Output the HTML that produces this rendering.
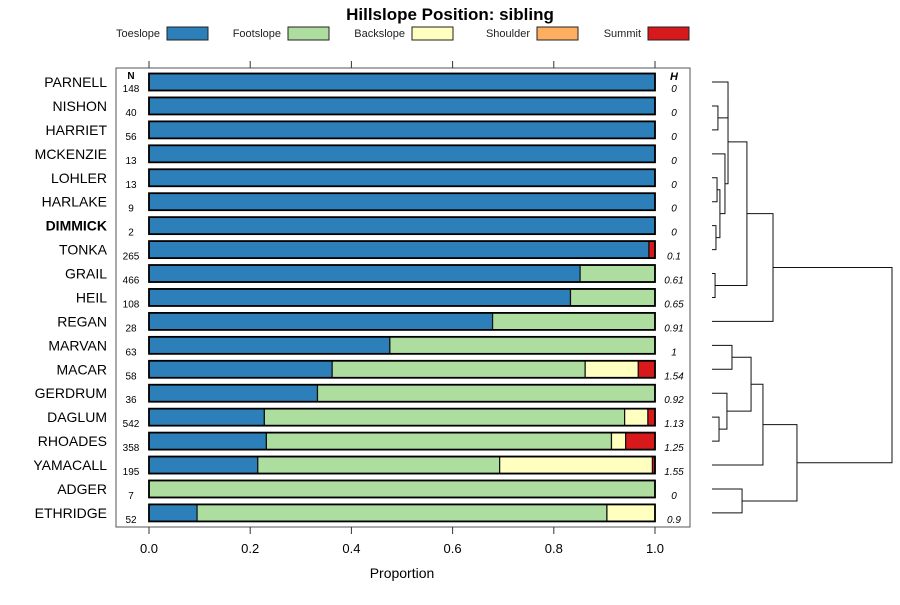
<!DOCTYPE html>
<html><head><meta charset="utf-8"><style>
body{margin:0;background:#fff;}
svg text{font-family:"Liberation Sans",sans-serif;}
</style></head><body>
<svg id="c" width="900" height="600" xmlns="http://www.w3.org/2000/svg">
<text x="450" y="20" text-anchor="middle" font-size="17" font-weight="bold">Hillslope Position: sibling</text>
<g id="legend"></g>
<rect x="116" y="68" width="574" height="459" fill="none" stroke="#555" stroke-width="1"/>
<g id="bars"></g>
<g id="axes"></g>
<g id="dendro"></g>
<text x="402" y="578" text-anchor="middle" font-size="14">Proportion</text>
<text x="131" y="79" text-anchor="middle" font-size="10" font-weight="bold">N</text>
<text x="674" y="80" text-anchor="middle" font-size="11" font-weight="bold" font-style="italic">H</text>
</svg>
<script>
const categories=["PARNELL","NISHON","HARRIET","MCKENZIE","LOHLER","HARLAKE","DIMMICK","TONKA","GRAIL","HEIL","REGAN","MARVAN","MACAR","GERDRUM","DAGLUM","RHOADES","YAMACALL","ADGER","ETHRIDGE"];
const seriesNames=["Toeslope","Footslope","Backslope","Shoulder","Summit"];
const toeslope=[1,1,1,1,1,1,1,0.988,0.852,0.833,0.679,0.476,0.362,0.333,0.228,0.232,0.215,0,0.095];
const footslope=[0,0,0,0,0,0,0,0,0.148,0.167,0.321,0.524,0.5,0.667,0.712,0.682,0.478,1,0.81];
const backslope=[0,0,0,0,0,0,0,0,0,0,0,0,0.105,0,0.046,0.028,0.302,0,0.095];
const shoulder=[0,0,0,0,0,0,0,0,0,0,0,0,0,0,0,0,0,0,0];
const summit=[0,0,0,0,0,0,0,0.012,0,0,0,0,0.033,0,0.014,0.058,0.005,0,0];
const nValues=[148,40,56,13,13,9,2,265,466,108,28,63,58,36,542,358,195,7,52];
const hValues=["0","0","0","0","0","0","0","0.1","0.61","0.65","0.91","1","1.54","0.92","1.13","1.25","1.55","0","0.9"];
const xTicks=[0,0.2,0.4,0.6,0.8,1];
const xTickLabels=["0.0","0.2","0.4","0.6","0.8","1.0"];
// hclust-style merges (negative = leaf index+1) and heights (0..1)
const merges=[[-2,-3],[-1,1],[-5,-6],[-7,-8],[3,4],[-4,5],[2,6],[-9,-10],[7,8],[9,-11],[-15,-16],[-14,11],[-12,-13],[13,12],[14,-17],[-18,-19],[15,16],[10,17]];
const heights=[0.033,0.089,0.028,0.022,0.044,0.072,0.089,0.017,0.194,0.339,0.039,0.083,0.111,0.217,0.283,0.167,0.472,1];
const colors=["#2c7fb8","#addd9f","#ffffc0","#fdae61","#d7191c"];
const NS="http://www.w3.org/2000/svg";
function mk(t,a,p){const e=document.createElementNS(NS,t);for(const k in a)e.setAttribute(k,a[k]);p.appendChild(e);return e;}
const X=v=>149+v*506, Y=i=>82+i*23.94;
const series=[toeslope,footslope,backslope,shoulder,summit];
const bars=document.getElementById('bars');
categories.forEach((c,i)=>{
  const l=mk('text',{x:107,y:Y(i)+5,'text-anchor':'end','font-size':14,'font-weight':c==="DIMMICK"?'bold':'normal'},bars);l.textContent=c;
  
  
  const n=mk('text',{x:131,y:Y(i)+10,'text-anchor':'middle','font-size':10},bars);n.textContent=nValues[i];
  
  
  const h=mk('text',{x:674,y:Y(i)+10,'text-anchor':'middle','font-size':10,'font-style':'italic'},bars);h.textContent=hValues[i];
  
  
  let acc=0;
  series.forEach((s,k)=>{const v=s[i];if(v<=0)return;
    const r=mk('rect',{x:X(acc),y:Y(i)-8.5,width:X(acc+v)-X(acc),height:17,fill:colors[k],stroke:'#111','stroke-width':1.2},bars);
    
    
    acc+=v;});
  const o=mk('rect',{x:X(0),y:Y(i)-8.5,width:X(1)-X(0),height:17,fill:'none',stroke:'#000','stroke-width':1.8},bars);
  
  
});
const ax=document.getElementById('axes');
xTicks.forEach((t,i)=>{
  mk('line',{x1:X(t),x2:X(t),y1:527,y2:534,stroke:'#333'},ax);
  mk('line',{x1:X(t),x2:X(t),y1:61,y2:68,stroke:'#333'},ax);
  const tl=mk('text',{x:X(t),y:553,'text-anchor':'middle','font-size':13},ax);tl.textContent=xTickLabels[i];
  
  
});
const lg=document.getElementById('legend');
const lx=[160,281,405,530,641];
seriesNames.forEach((s,k)=>{
  const t=mk('text',{x:lx[k],y:37,'text-anchor':'end','font-size':11,fill:'#222'},lg);t.textContent=s;
  
  
  const r=mk('rect',{x:lx[k]+7,y:27,width:41,height:13,fill:colors[k],stroke:'#222','stroke-width':1},lg);
  
  
});
const dg=document.getElementById('dendro');
const HX=h=>712+h*180;
const pos=[];
function node(m){return m<0?{y:Y(-m-1),x:712}:pos[m-1];}
merges.forEach((m,j)=>{
  const a=node(m[0]),b=node(m[1]),hx=HX(heights[j]);
  const p=mk('path',{d:`M${a.x},${a.y}H${hx}V${b.y}H${b.x}`,fill:'none',stroke:'#111','stroke-width':1},dg);
  
  
  pos.push({x:hx,y:(a.y+b.y)/2});
});
</script>
</body></html>
